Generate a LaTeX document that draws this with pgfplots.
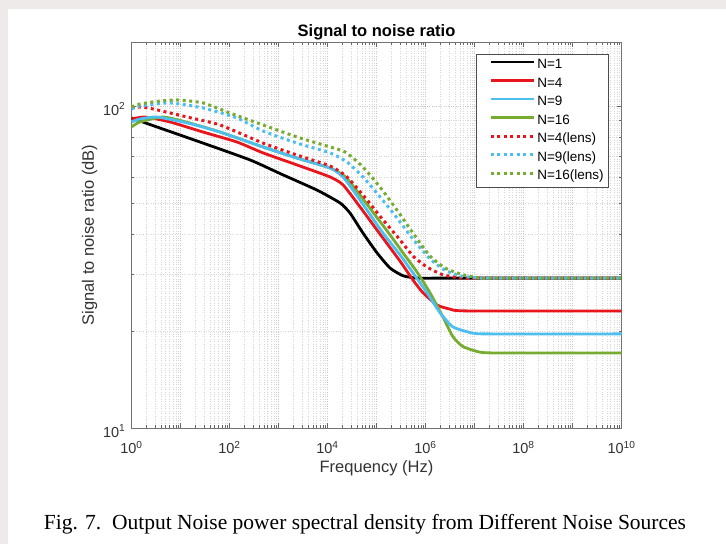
\documentclass[border=0pt]{standalone}
\usepackage{fontspec}
\setmainfont{Liberation Sans}
\newfontfamily\capfont{Liberation Serif}
\usepackage{pgfplots}
\pgfplotsset{compat=1.18}
\definecolor{bgray}{HTML}{EEEAEA}
\definecolor{cred}{HTML}{E8161C}
\definecolor{cblue}{HTML}{4DBEEE}
\definecolor{cgreen}{HTML}{77AC30}
\begin{document}
\begin{tikzpicture}
\fill[bgray] (0pt,0pt) rectangle (726pt,544pt);
\fill[white] (8pt,0pt) rectangle (726pt,535pt);
\begin{axis}[
    at={(131.5pt,116pt)}, anchor=south west,
    scale only axis, width=490pt, height=386pt,
    xmode=log, ymode=log, log basis x=10, log basis y=10,
    xmin=1, xmax=1e10, ymin=10, ymax=158,
    xtick={1,1e1,1e2,1e3,1e4,1e5,1e6,1e7,1e8,1e9,1e10},
    xticklabels={10\textsuperscript{0},,10\textsuperscript{2},,10\textsuperscript{4},,10\textsuperscript{6},,10\textsuperscript{8},,10\textsuperscript{10}},
    minor xtick={2,3,4,5,6,7,8,9,
      2e1,3e1,4e1,5e1,6e1,7e1,8e1,9e1,
      2e2,3e2,4e2,5e2,6e2,7e2,8e2,9e2,
      2e3,3e3,4e3,5e3,6e3,7e3,8e3,9e3,
      2e4,3e4,4e4,5e4,6e4,7e4,8e4,9e4,
      2e5,3e5,4e5,5e5,6e5,7e5,8e5,9e5,
      2e6,3e6,4e6,5e6,6e6,7e6,8e6,9e6,
      2e7,3e7,4e7,5e7,6e7,7e7,8e7,9e7,
      2e8,3e8,4e8,5e8,6e8,7e8,8e8,9e8,
      2e9,3e9,4e9,5e9,6e9,7e9,8e9,9e9},
    ytick={10,100},
    yticklabels={10\textsuperscript{1},10\textsuperscript{2}},
    minor ytick={20,30,40,50,60,70,80,90},
    grid=both,
    major grid style={draw=black!22, dotted, line width=0.5pt},
    minor grid style={draw=black!16, dotted, line width=0.5pt},
    tick align=inside, tick pos=both,
    major tick length=5pt, minor tick length=3pt,
    tick style={black!60, line width=0.5pt},
    axis line style={black!55, line width=0.6pt},
    tick label style={font=\fontsize{14.5}{16}\selectfont, text=black!80},
    xticklabel style={anchor=base, yshift=-26pt, inner sep=0pt},
    yticklabel style={anchor=east, xshift=-6pt, yshift=-3pt, inner sep=0pt},
    title={Signal to noise ratio},
    title style={at={(axis description cs:0.5,1)}, anchor=base, yshift=-1pt, inner sep=0pt,
      font=\fontsize{16.5}{19}\selectfont\bfseries},
    xlabel={Frequency (Hz)},
    xlabel style={at={(axis description cs:0.5,0)}, anchor=base, yshift=-45pt, inner sep=0pt,
      font=\fontsize{16.5}{19}\selectfont, text=black!80},
    ylabel={Signal to noise ratio (dB)},
    ylabel style={at={([xshift=-37.5pt]axis description cs:0,0.5)}, anchor=base, inner sep=0pt,
      font=\fontsize{16.5}{19}\selectfont, text=black!80},
    legend style={at={(axis description cs:0.9745,0.9689)}, anchor=north east,
      draw=black!70, line width=0.6pt, fill=white,
      font=\fontsize{13.5}{15}\selectfont,
      nodes={inner sep=0pt, text height=9.5pt, text depth=3pt},
      row sep=6pt, inner xsep=5pt, inner ysep=5pt},
    legend cell align=left,
    legend image code/.code={\path (0pt,0pt) (53pt,0pt);
      \draw[#1] (8pt,3.5pt) -- (51pt,3.5pt);},
    every axis plot/.append style={line width=2.8pt, smooth, tension=0.35},
    lens/.style={line width=3pt, dash pattern=on 3pt off 3.5pt},
]
% legend in the original order
\addlegendimage{black}\addlegendentry{N=1}
\addlegendimage{cred}\addlegendentry{N=4}
\addlegendimage{cblue}\addlegendentry{N=9}
\addlegendimage{cgreen}\addlegendentry{N=16}
\addlegendimage{cred, lens}\addlegendentry{N=4(lens)}
\addlegendimage{cblue, lens}\addlegendentry{N=9(lens)}
\addlegendimage{cgreen, lens}\addlegendentry{N=16(lens)}

\addplot[black, forget plot] coordinates {
(1,91.8) (1.49,89.8) (3.82,85.4) (28.8,76.7) (262,68.0) (1235,61.1) (6105,54.8)
(17990,50.0) (28790,46.5) (53040,40.3) (102400,35.0) (188600,31.4) (347400,29.7)
(670700,29.2) (1.977e6,29.2) (1e10,29.2)};
\addplot[cred, forget plot] coordinates {
(1,91.1) (1.89,92.4) (6.11,89.2) (28.8,83.0) (142,77.3) (483,71.5) (2386,65.6)
(11250,60.2) (20720,56.9) (46060,48.6) (117900,40.0) (301700,33.0) (555800,28.8)
(889200,26.3) (1.717e6,24.1) (3.162e6,23.4) (7.029e6,23.1) (1e10,23.1)};
% N=16 lies under N=9 until the roll-off
\addplot[cgreen, forget plot] coordinates {
(1,86.1) (1.49,89.2) (4.39,92.4) (13.6,89.0) (64.0,83.0) (483,74.6) (2386,68.9)
(11250,64.2) (22760,60.4) (46060,52.9) (93200,45.9) (188600,39.8) (347400,35.0)
(670700,30.5) (1.235e6,26.3) (2.276e6,22.1) (3.640e6,19.2) (5.826e6,17.9)
(1.295e7,17.2) (3.314e7,17.1) (1e10,17.1)};
\addplot[cblue, forget plot] coordinates {
(1,89.2) (1.49,91.1) (3.31,92.4) (13.6,88.6) (64.0,83.0) (483,74.6) (2386,68.9)
(11250,64.2) (20720,60.2) (36400,53.7) (64000,47.5) (135700,40.3) (301700,34.5)
(555800,30.3) (1.073e6,26.3) (1.977e6,22.8) (3.640e6,20.6) (9.320e6,19.7)
(2.072e7,19.6) (1e10,19.6)};
\addplot[cred, lens, forget plot] coordinates {
(1,98.6) (1.49,99.3) (2.75,97.9) (13.6,92.4) (64.0,87.3) (483,76.7) (2386,70.4)
(11250,65.1) (25000,60.2) (64000,51.1) (135700,44.3) (301700,38.4) (555800,34.2)
(1.073e6,31.6) (2.276e6,29.9) (5.826e6,29.2) (2.072e7,29.2) (1e10,29.2)};
\addplot[cblue, lens, forget plot] coordinates {
(1,97.9) (1.49,100) (6.11,102.2) (28.8,98.6) (142,91.8) (483,83.6) (2386,76.7)
(11250,71.5) (25000,67.0) (53040,60.2) (117900,52.2) (262100,44.9) (555800,38.6)
(1.235e6,33.5) (2.5e6,30.9) (5.06e6,29.7) (1.295e7,29.2) (3.314e7,29.2) (1e10,29.2)};
\addplot[cgreen, lens, forget plot] coordinates {
(1,99.3) (1.49,101.4) (3.82,103.6) (8.48,104.4) (28.8,102.2) (102,95.1) (483,87.3)
(2386,80.1) (11250,74.6) (22760,72.0) (50600,65.1) (117900,56.0) (262100,47.5)
(555800,40.3) (1.235e6,34.2) (2.5e6,31.4) (5.06e6,30.1) (1.295e7,29.2) (3.314e7,29.2)
(1e10,29.2)};
\end{axis}
\node[font=\capfont\fontsize{21.5}{25}\selectfont, anchor=base] at (365pt,15pt)
  {Fig. 7.\ \ Output Noise power spectral density from Different Noise Sources};
\end{tikzpicture}
\end{document}
